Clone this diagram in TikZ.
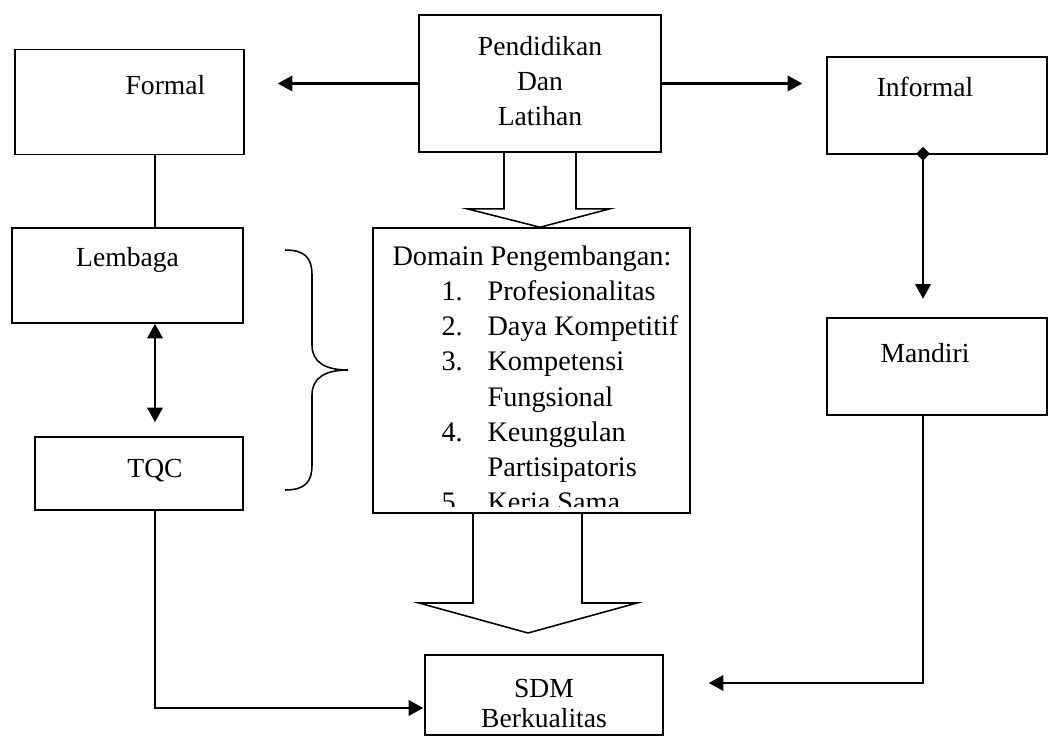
\documentclass[tikz,border=0pt]{standalone}
\usepackage{fontspec}
\setmainfont{Liberation Serif}
\usepackage{tikz}
\usetikzlibrary{positioning,calc}
\usetikzlibrary{arrows.meta}
\tikzstyle{kotak} = [rectangle, draw=black, line width=0.9pt, inner sep=0pt]
\tikzstyle{teks} = [anchor=base, align=center, inner sep=0pt, font=\fontsize{16}{20}\selectfont]
\tikzstyle{garis} = [line width=1.2pt]
\tikzstyle{panah} = [line width=1.2pt,-{Triangle[length=8.5pt,width=9pt]}]
\tikzstyle{blok} = [line width=0.9pt, line join=miter]

\begin{document}
\begin{tikzpicture}[x=0.58pt,y=-0.58pt]
	\useasboundingbox (0,0) rectangle (1063,753);
	% kotak-kotak
	\node (p) at (540,83.5) [kotak,minimum width=242*0.58pt,minimum height=137*0.58pt] {};
	\node (f) at (129.5,102) [kotak,minimum width=229*0.58pt,minimum height=105*0.58pt] {};
	\node (i) at (937,105.5) [kotak,minimum width=220*0.58pt,minimum height=97*0.58pt] {};
	\node (l) at (127.5,275.5) [kotak,minimum width=231*0.58pt,minimum height=95*0.58pt] {};
	\node (t) at (139,473.5) [kotak,minimum width=208*0.58pt,minimum height=73*0.58pt] {};
	\node (d) at (531.5,370.5) [kotak,minimum width=317*0.58pt,minimum height=285*0.58pt] {};
	\node (m) at (937,366.5) [kotak,minimum width=220*0.58pt,minimum height=97*0.58pt] {};
	\node (s) at (544,695) [kotak,minimum width=238*0.58pt,minimum height=80*0.58pt] {};
	% teks (anchor base = garis dasar baris terakhir)
	\node (ptxt) at ($(p.north)+(0,111)$) [teks,font=\fontsize{16}{20.3}\selectfont] {Pendidikan\\Dan\\Latihan};
	\node (ftxt) at ($(f.north)+(36,46)$) [teks] {Formal};
	\node (itxt) at ($(i.north)+(-12,40)$) [teks] {Informal};
	\node (ltxt) at ($(l.north)+(0,39)$) [teks] {Lembaga};
	\node (ttxt) at ($(t.north)+(16,41)$) [teks] {TQC};
	\node (mtxt) at ($(m.north)+(-12,45)$) [teks] {Mandiri};
	\node (stxt) at ($(s.north)+(0,73)$) [teks,font=\fontsize{16}{17.4}\selectfont] {SDM\\Berkualitas};
	\begin{scope}
		\clip ($(d.north west)+(2,2)$) rectangle ($(d.south east)+(-2,-7)$);
		\node (dtxt) at ($(d.north west)+(20,284.4)$) [teks,anchor=base west,align=left,font=\fontsize{16.4}{20.4}\selectfont]
			{Domain Pengembangan:\\
			\hspace*{28.4pt}\makebox[26.7pt][l]{1.}Profesionalitas\\
			\hspace*{28.4pt}\makebox[26.7pt][l]{2.}Daya Kompetitif\\
			\hspace*{28.4pt}\makebox[26.7pt][l]{3.}Kompetensi\\
			\hspace*{55.1pt}Fungsional\\
			\hspace*{28.4pt}\makebox[26.7pt][l]{4.}Keunggulan\\
			\hspace*{55.1pt}Partisipatoris\\
			\hspace*{28.4pt}\makebox[26.7pt][l]{5.}Kerja Sama};
	\end{scope}
	% penghubung
	\coordinate (kx) at (155,0);
	\coordinate (kk) at (923,0);
	\draw[panah] (p.west) -- ($(f.east |- p.west)+(33,0)$);
	\draw[panah] (p.east) -- ($(i.west |- p.east)+(-24,0)$);
	\draw[line width=1.2pt,{Diamond[length=8pt,width=8pt]}-{Triangle[length=8.5pt,width=9pt]}] ($(kk |- i.south)+(0,-8)$) -- ($(kk |- i.south)+(0,144)$);
	\draw[garis,line width=0.9pt] (kx |- f.south) -- (kx |- l.north);
	\draw[line width=1.2pt,{Triangle[length=8.5pt,width=9pt]}-{Triangle[length=8.5pt,width=9pt]}] (kx |- l.south) -- ($(kx |- t.north)+(0,-14)$);
	\draw[panah] (kx |- t.south) |- ($(s.west)+(-1,13)$);
	\draw[panah] (kk |- m.south) |- ($(s.east)+(45,-12)$);
	% kurung kurawal
	\draw[line width=0.9pt] (285,250) .. controls (305,250) and (312,258) .. (312,275) -- (312,345)
		.. controls (312,362) and (325,370) .. (348,370) .. controls (325,370) and (312,378) .. (312,395)
		-- (312,465) .. controls (312,482) and (305,490) .. (285,490);
	% panah blok
	\draw[blok] ($(p.south)+(-36,0)$) -- ++(0,56) -- ++(-37,0) -- (p.south |- d.north)
		-- ($(p.south)+(70,56)$) -- ($(p.south)+(36,56)$) -- ($(p.south)+(36,0)$);
	\coordinate (t2) at (528,633);
	\draw[blok] ($(t2 |- d.south)+(-55,0)$) -- ($(t2)+(-55,-30)$) -- ($(t2)+(-109,-30)$) -- (t2)
		-- ($(t2)+(109,-30)$) -- ($(t2)+(54,-30)$) -- ($(t2 |- d.south)+(54,0)$);
\end{tikzpicture}
\end{document}
